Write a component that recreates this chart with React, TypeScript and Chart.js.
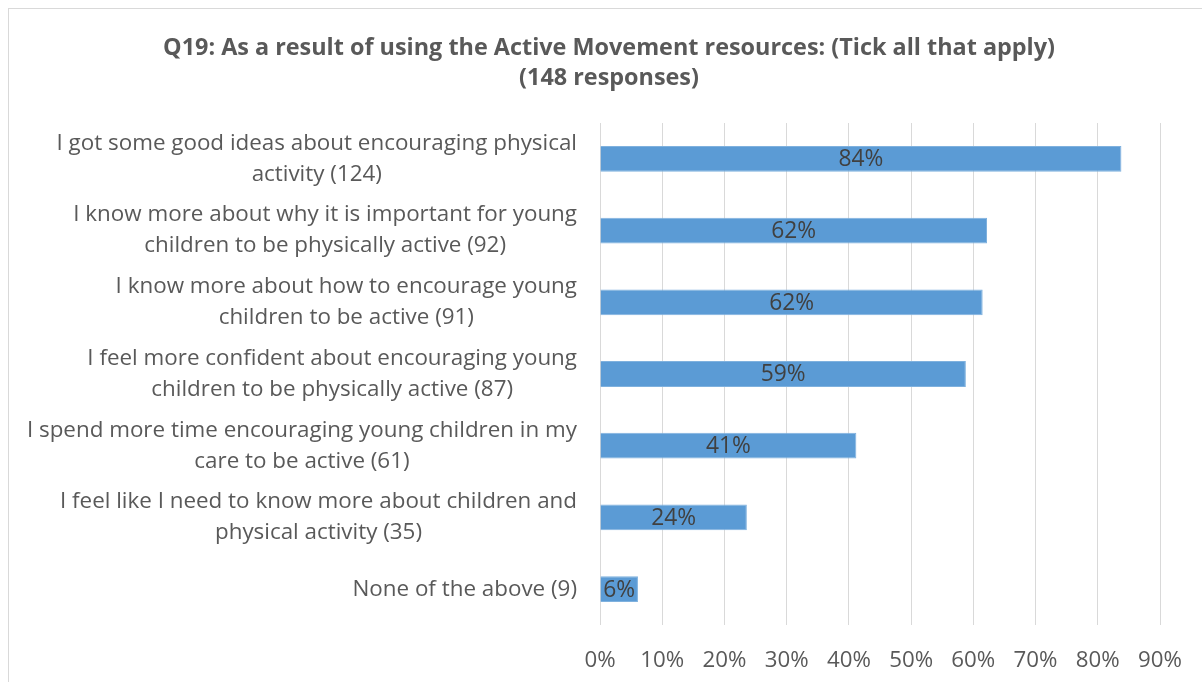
import React, { useEffect, useRef } from "react";
import { Chart, registerables } from "chart.js";

Chart.register(...registerables);

const categories: string[][] = [
  ["I got some good ideas about encouraging physical", "activity (124)"],
  ["I know more about why it is important for young", "children to be physically active (92)"],
  ["I know more about how to encourage young", "children to be active (91)"],
  ["I feel more confident about encouraging young", "children to be physically active (87)"],
  ["I spend more time encouraging young children in my", "care to be active (61)"],
  ["I feel like I need to know more about children and", "physical activity (35)"],
  ["None of the above (9)"],
];
const percentValues: number[] = [83.8, 62.2, 61.5, 58.8, 41.2, 23.6, 6.1];
const xTickMax = 90;
const xTickStep = 10;
const titleLines: string[] = [
  "Q19: As a result of using the Active Movement resources: (Tick all that apply)",
  "(148 responses)",
];

const FONT = "'Open Sans', Lato, sans-serif";

// fit a font size so a sample string reaches a target width
function fitSize(text: string, target: number, weight: string): number {
  const c = document.createElement("canvas").getContext("2d")!;
  c.font = `${weight} 20px ${FONT}`;
  const w = c.measureText(text).width;
  return Math.round((20 * target) / w * 10) / 10;
}

export default function App() {
  const canvasRef = useRef<HTMLCanvasElement | null>(null);

  useEffect(() => {
    if (!canvasRef.current) return;
    const labelSize = fitSize(categories[0][0], 520, "normal");
    const titleSize = fitSize(titleLines[0], 893, "bold");
    const tickSize = fitSize("90%", 44, "normal");
    const dataSize = fitSize("84%", 45, "normal");

    const yLabelPlugin = {
      id: "yLabels",
      afterDraw(chart: any) {
        const ctx = chart.ctx;
        const yScale = chart.scales.y;
        const rightEdge = 569;
        const lineH = 31;
        ctx.save();
        ctx.font = `${labelSize}px ${FONT}`;
        ctx.fillStyle = "#595959";
        ctx.textAlign = "center";
        ctx.textBaseline = "middle";
        categories.forEach((lines, i) => {
          const yc = yScale.getPixelForValue(i);
          const w = Math.max(...lines.map((l) => ctx.measureText(l).width));
          const cx = rightEdge - w / 2;
          const startY = yc - ((lines.length - 1) * lineH) / 2;
          lines.forEach((l, j) => ctx.fillText(l, cx, startY + j * lineH));
        });
        ctx.restore();
      },
    };

    const dataLabelPlugin = {
      id: "dataLabels",
      afterDatasetsDraw(chart: any) {
        const ctx = chart.ctx;
        const meta = chart.getDatasetMeta(0);
        ctx.save();
        ctx.font = `${dataSize}px ${FONT}`;
        ctx.fillStyle = "#404040";
        ctx.textAlign = "center";
        ctx.textBaseline = "middle";
        meta.data.forEach((el: any, i: number) => {
          const cx = (el.x + el.base) / 2;
          ctx.fillText(`${Math.round(percentValues[i])}%`, cx, el.y + 1);
        });
        ctx.restore();
      },
    };

    const chart = new Chart(canvasRef.current, {
      type: "bar",
      data: {
        labels: categories.map((c) => c.join(" ")),
        datasets: [
          {
            data: percentValues,
            backgroundColor: "#5b9bd5",
            borderColor: "#7fb1de",
            borderWidth: 1,
            barPercentage: 0.72,
            categoryPercentage: 0.5,
          },
        ],
      },
      options: {
        indexAxis: "y",
        animation: false,
        responsive: false,
        maintainAspectRatio: false,
        layout: { padding: { left: 50, right: 50, top: 0, bottom: 0 } },
        plugins: {
          legend: { display: false },
          tooltip: { enabled: false },
          title: {
            display: true,
            text: titleLines,
            color: "#595959",
            font: { family: FONT, size: titleSize, weight: "bold", lineHeight: 30 / titleSize },
            padding: { top: 25, bottom: 30 },
          },
        },
        scales: {
          x: {
            min: 0,
            max: xTickMax,
            border: { display: false },
            grid: { color: "#d9d9d9", drawTicks: false, lineWidth: 1 },
            ticks: {
              stepSize: xTickStep,
              padding: 22,
              color: "#595959",
              font: { family: FONT, size: tickSize },
              callback: (v: any) => `${v}%`,
            },
            afterFit: (s: any) => {
              s.height = 57;
            },
          },
          y: {
            border: { display: false },
            grid: { display: false },
            ticks: { display: false },
            afterFit: (s: any) => {
              s.width = 542;
            },
          },
        },
      },
      plugins: [yLabelPlugin, dataLabelPlugin],
    });
    return () => chart.destroy();
  }, []);

  return (
    <div
      style={{
        position: "fixed",
        left: 0,
        top: 0,
        width: 1202,
        height: 682,
        overflow: "hidden",
        background: "#ffffff",
      }}
    >
      <div
        style={{
          position: "absolute",
          left: 8,
          top: 8,
          width: 1300,
          height: 800,
          border: "1px solid #d9d9d9",
          boxSizing: "border-box",
        }}
      />
      <canvas
        ref={canvasRef}
        width={1202}
        height={674}
        style={{ position: "absolute", left: 8, top: 8, width: 1202, height: 674 }}
      />
    </div>
  );
}
